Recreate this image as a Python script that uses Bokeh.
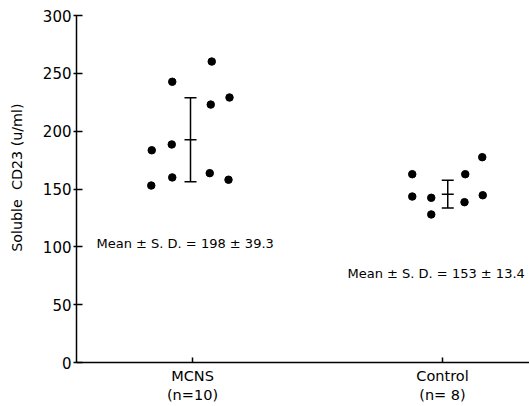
from bokeh.plotting import figure
from bokeh.models import FixedTicker, Label
from bokeh.embed import file_html
from bokeh.resources import INLINE

# ---- data ----
groups = ["MCNS", "Control"]
group_pos = [1, 2]
group_tick_labels = ["MCNS\n(n=10)", "Control\n(n= 8)"]

mcns_offset = [-0.163, -0.165, -0.081, -0.083, -0.081, 0.077, 0.073, 0.069, 0.148, 0.144]
mcns_values = [183.5, 153, 242.7, 188.5, 160, 260.2, 223, 163.7, 229.1, 158]

control_offset = [-0.121, -0.121, -0.045, -0.045, 0.091, 0.088, 0.161, 0.159]
control_values = [162.8, 143.5, 142.4, 128, 162.8, 138.6, 144.6, 177.5]

bar_offset = [-0.008, 0.021]
bar_mean = [192.5, 145.5]
bar_sd = [36.3, 12.0]

stat_texts = ["Mean \u00b1 S. D. = 198 \u00b1 39.3", "Mean \u00b1 S. D. = 153 \u00b1 13.4"]
stat_x = [0.616, 1.62]
stat_y = [103, 77]

y_ticks = [0, 50, 100, 150, 200, 250, 300]

FONT = "DejaVu Sans"

p = figure(width=529, height=405, output_backend="svg", toolbar_location=None,
           x_range=(0.536, 2.348), y_range=(0, 300),
           min_border_left=76, min_border_right=0, min_border_top=15, min_border_bottom=43)
p.outline_line_color = None
p.grid.visible = False
p.background_fill_color = "white"
p.border_fill_color = "white"

# points
xs = [group_pos[0] + o for o in mcns_offset] + [group_pos[1] + o for o in control_offset]
ys = mcns_values + control_values
p.scatter(xs, ys, size=7.5, color="black")

# error bars
bx = [g + o for g, o in zip(group_pos, bar_offset)]
lo = [m - s for m, s in zip(bar_mean, bar_sd)]
hi = [m + s for m, s in zip(bar_mean, bar_sd)]
cap = 0.024
p.segment(x0=bx, y0=lo, x1=bx, y1=hi, line_color="black", line_width=1.5)
for yy in (lo, hi, bar_mean):
    p.segment(x0=[x - cap for x in bx], y0=yy, x1=[x + cap for x in bx], y1=yy,
              line_color="black", line_width=1.5)

# stats texts
for t, x, y in zip(stat_texts, stat_x, stat_y):
    p.add_layout(Label(x=x, y=y, text=t, text_font=FONT, text_font_size="13px",
                       text_baseline="middle", text_align="left", text_color="black"))

# axes
p.yaxis.ticker = FixedTicker(ticks=y_ticks)
p.yaxis.minor_tick_line_color = None
p.yaxis.major_tick_in = 6
p.yaxis.major_tick_out = 3
p.yaxis.axis_line_width = 1.5
p.yaxis.major_tick_line_width = 1.5
p.yaxis.major_label_text_font = FONT
p.yaxis.major_label_text_font_size = "15px"
p.yaxis.major_label_text_color = "black"
p.yaxis.major_label_standoff = 2
p.yaxis.axis_label = "\u00a0" * 5 + "Soluble\u00a0\u00a0CD23 (u/ml)"
p.yaxis.axis_label_text_font = FONT
p.yaxis.axis_label_text_font_size = "14.3px"
p.yaxis.axis_label_text_font_style = "normal"
p.yaxis.axis_label_text_color = "black"
p.yaxis.axis_label_standoff = 15

p.xaxis.ticker = FixedTicker(ticks=group_pos)
p.xaxis.major_label_overrides = {g: t for g, t in zip(group_pos, group_tick_labels)}
p.xaxis.minor_tick_line_color = None
p.xaxis.major_tick_in = 5
p.xaxis.major_tick_out = 0
p.xaxis.axis_line_width = 1.5
p.xaxis.major_tick_line_width = 1.5
p.xaxis.major_label_text_font = FONT
p.xaxis.major_label_text_font_size = "14.5px"
p.xaxis.major_label_text_color = "black"
p.xaxis.major_label_standoff = 5

open("out.html", "w").write(file_html(p, INLINE))
